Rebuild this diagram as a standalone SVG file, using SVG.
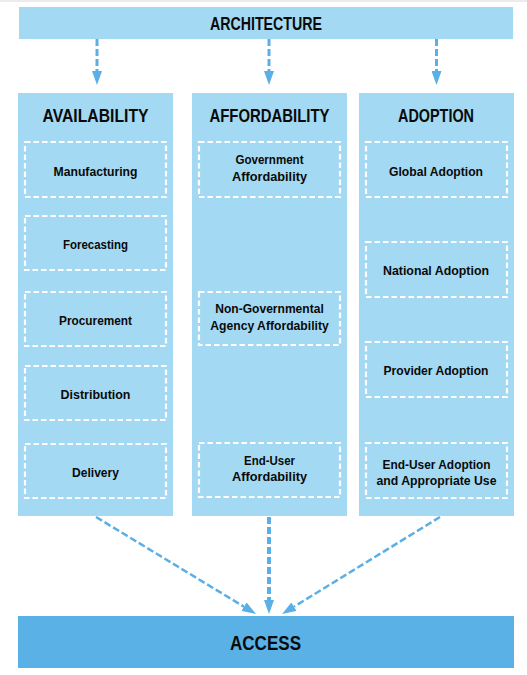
<svg xmlns="http://www.w3.org/2000/svg" width="527" height="675" viewBox="0 0 527 675">
<defs>
<style>
.bar{fill:#a4d9f3}
.access{fill:#59b1e6}
.box{fill:none;stroke:#ffffff;stroke-width:2.2;stroke-dasharray:5.5 3}
.h{font-family:"Liberation Sans",Arial,sans-serif;font-weight:bold;font-size:18.5px;fill:#0a0a0a;text-anchor:middle}
.t{font-family:"Liberation Sans",Arial,sans-serif;font-weight:bold;font-size:13.6px;fill:#0a0a0a;text-anchor:middle}
.a{font-family:"Liberation Sans",Arial,sans-serif;font-weight:bold;font-size:20.5px;fill:#0a0a0a;text-anchor:middle}
.conn{fill:none;stroke:#5aafe6;stroke-dasharray:7 3}
</style>
<marker id="ah" markerUnits="userSpaceOnUse" markerWidth="14" markerHeight="10" refX="0" refY="5" orient="auto" viewBox="0 0 14 10">
<path d="M0,0 L14,5 L0,10 z" fill="#5aafe6"/>
</marker>
</defs>
<rect x="0" y="0" width="527" height="675" fill="#ffffff"/>
<rect x="0" y="0" width="527" height="2" fill="#ececec"/>

<g id="architecture">
<rect class="bar" x="19" y="7" width="494" height="32"/>
<text class="h" x="266" y="30.3" textLength="112" lengthAdjust="spacingAndGlyphs">ARCHITECTURE</text>
</g>

<g id="availability">
<rect class="bar" x="18" y="93" width="155" height="423"/>
<text class="h" x="95.5" y="122" textLength="106" lengthAdjust="spacingAndGlyphs">AVAILABILITY</text>
</g>
<g id="manufacturing">
<rect class="box" x="25" y="142" width="141" height="55"/>
<text class="t" x="95.5" y="176" textLength="84" lengthAdjust="spacingAndGlyphs">Manufacturing</text>
</g>
<g id="forecasting">
<rect class="box" x="25" y="216" width="141" height="54"/>
<text class="t" x="95.5" y="249" textLength="65" lengthAdjust="spacingAndGlyphs">Forecasting</text>
</g>
<g id="procurement">
<rect class="box" x="25" y="292" width="141" height="54"/>
<text class="t" x="95.5" y="324.5" textLength="73" lengthAdjust="spacingAndGlyphs">Procurement</text>
</g>
<g id="distribution">
<rect class="box" x="25" y="366" width="141" height="54"/>
<text class="t" x="95.5" y="398.5" textLength="70" lengthAdjust="spacingAndGlyphs">Distribution</text>
</g>
<g id="delivery">
<rect class="box" x="25" y="444" width="141" height="54"/>
<text class="t" x="95.5" y="477" textLength="47" lengthAdjust="spacingAndGlyphs">Delivery</text>
</g>

<g id="affordability">
<rect class="bar" x="192" y="93" width="155" height="423"/>
<text class="h" x="269.5" y="122" textLength="120" lengthAdjust="spacingAndGlyphs">AFFORDABILITY</text>
</g>
<g id="government-affordability">
<rect class="box" x="199" y="142" width="141" height="55"/>
<text class="t" x="269.5" y="164" textLength="68" lengthAdjust="spacingAndGlyphs">Government</text>
<text class="t" x="269.5" y="180.5" textLength="75" lengthAdjust="spacingAndGlyphs">Affordability</text>
</g>
<g id="ngo-affordability">
<rect class="box" x="199" y="292" width="141" height="53"/>
<text class="t" x="269.5" y="312.5" textLength="108.5" lengthAdjust="spacingAndGlyphs">Non-Governmental</text>
<text class="t" x="269.5" y="329.5" textLength="118.5" lengthAdjust="spacingAndGlyphs">Agency Affordability</text>
</g>
<g id="end-user-affordability">
<rect class="box" x="199" y="443" width="141" height="54"/>
<text class="t" x="269.5" y="464.5" textLength="51" lengthAdjust="spacingAndGlyphs">End-User</text>
<text class="t" x="269.5" y="481" textLength="75" lengthAdjust="spacingAndGlyphs">Affordability</text>
</g>

<g id="adoption">
<rect class="bar" x="359" y="93" width="155" height="423"/>
<text class="h" x="436" y="122" textLength="76" lengthAdjust="spacingAndGlyphs">ADOPTION</text>
</g>
<g id="global-adoption">
<rect class="box" x="366" y="142" width="141" height="55"/>
<text class="t" x="436" y="176" textLength="94" lengthAdjust="spacingAndGlyphs">Global Adoption</text>
</g>
<g id="national-adoption">
<rect class="box" x="366" y="242" width="141" height="55"/>
<text class="t" x="436" y="275" textLength="106" lengthAdjust="spacingAndGlyphs">National Adoption</text>
</g>
<g id="provider-adoption">
<rect class="box" x="366" y="342" width="141" height="55"/>
<text class="t" x="436" y="375" textLength="105" lengthAdjust="spacingAndGlyphs">Provider Adoption</text>
</g>
<g id="end-user-adoption">
<rect class="box" x="366" y="443" width="141" height="55"/>
<text class="t" x="436.5" y="468.5" textLength="108" lengthAdjust="spacingAndGlyphs">End-User Adoption</text>
<text class="t" x="436.5" y="484.5" textLength="120" lengthAdjust="spacingAndGlyphs">and Appropriate Use</text>
</g>

<g id="access">
<rect class="access" x="18" y="616" width="496" height="52"/>
<text class="a" x="265.5" y="649.5" textLength="71" lengthAdjust="spacingAndGlyphs">ACCESS</text>
</g>

<g id="connectors">
<line class="conn" x1="97" y1="39" x2="97" y2="71" stroke-width="3" marker-end="url(#ah)"/>
<line class="conn" x1="269" y1="39" x2="269" y2="71" stroke-width="3" marker-end="url(#ah)"/>
<line class="conn" x1="436.5" y1="39" x2="436.5" y2="71" stroke-width="3" marker-end="url(#ah)"/>
<line class="conn" x1="269" y1="517" x2="269" y2="600" stroke-width="4" stroke-dasharray="8 3" marker-end="url(#ah)"/>
<line class="conn" x1="96" y1="517" x2="244" y2="606.7" stroke-width="2.5" stroke-dasharray="8 4" marker-end="url(#ah)"/>
<line class="conn" x1="440" y1="517" x2="294" y2="606.7" stroke-width="2.5" stroke-dasharray="8 4" marker-end="url(#ah)"/>
</g>
</svg>
